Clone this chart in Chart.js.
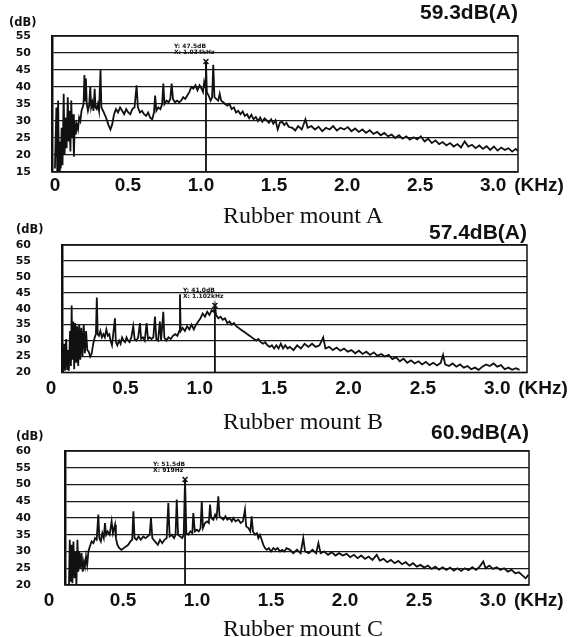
<!DOCTYPE html>
<html>
<head>
<meta charset="utf-8">
<script src="https://cdn.jsdelivr.net/npm/chart.js@4.4.1/dist/chart.umd.min.js"></script>
<style>
  body { margin: 0; background: #fff; width: 579px; height: 637px; position: relative; overflow: hidden; }
  canvas { position: absolute; left: 0; }
  .cap { position: absolute; left: 0; width: 606px; text-align: center; color: #111;
         font: 24px/24px "Liberation Serif", "Times New Roman", serif; }
</style>
</head>
<body>
<canvas id="chartA" width="579" height="200" style="top:0px"></canvas>
<canvas id="chartB" width="579" height="210" style="top:200px"></canvas>
<canvas id="chartC" width="579" height="227" style="top:410px"></canvas>
<div class="cap" style="top:203px">Rubber mount A</div>
<div class="cap" style="top:409px">Rubber mount B</div>
<div class="cap" style="top:616px">Rubber mount C</div>
<script>
// tick labels
const xTicks = [0, 0.5, 1.0, 1.5, 2.0, 2.5, 3.0];
const titles = ["59.3dB(A)", "57.4dB(A)", "60.9dB(A)"];

// Rubber mount A spectrum (kHz, dB)
const freqA = [0.000,0.010,0.016,0.022,0.028,0.034,0.040,0.046,0.052,0.060,0.066,0.074,0.080,0.088,0.094,0.100,0.106,0.112,0.118,0.124,
  0.130,0.136,0.142,0.150,0.158,0.166,0.174,0.182,0.190,0.196,0.202,0.206,0.212,0.218,0.226,0.234,0.242,0.248,0.256,0.264,
  0.272,0.278,0.286,0.294,0.302,0.312,0.318,0.330,0.350,0.365,0.380,0.392,0.405,0.418,0.432,0.446,0.460,0.474,0.488,0.502,
  0.516,0.530,0.545,0.559,0.568,0.582,0.596,0.610,0.624,0.638,0.652,0.666,0.678,0.686,0.694,0.708,0.722,0.734,0.742,0.750,
  0.764,0.778,0.790,0.799,0.808,0.822,0.836,0.850,0.864,0.878,0.892,0.906,0.920,0.934,0.948,0.962,0.976,0.990,1.004,1.014,
  1.022,1.030,1.034,1.040,1.052,1.066,1.076,1.084,1.092,1.104,1.118,1.128,1.138,1.152,1.165,1.180,1.195,1.210,1.225,1.240,
  1.255,1.270,1.285,1.300,1.315,1.330,1.345,1.360,1.375,1.390,1.405,1.420,1.435,1.450,1.465,1.480,1.495,1.510,1.525,1.540,
  1.555,1.570,1.585,1.600,1.625,1.645,1.665,1.690,1.715,1.730,1.755,1.780,1.805,1.830,1.855,1.880,1.905,1.930,1.955,1.980,
  2.005,2.030,2.055,2.080,2.105,2.130,2.155,2.180,2.205,2.230,2.255,2.280,2.305,2.330,2.355,2.380,2.405,2.430,2.455,2.480,
  2.505,2.530,2.555,2.580,2.605,2.630,2.655,2.680,2.705,2.730,2.755,2.780,2.805,2.830,2.855,2.880,2.905,2.930,2.955,2.980,
  3.005,3.030,3.055,3.080,3.105,3.130,3.155,3.168];
const dbA = [16,34,15,36,15,24,16,28,17,38,20,31,22,37,24,33,21,36,25,32,
  19.5,30,26,29,27.5,31,30,33,34,35,43.5,36,42.5,35,33,34.5,40,34,35.5,33,
  39.5,34,33.5,35,33,45,34,33,31,29,27.5,29,32,33.5,32.5,34,33,32,33.5,32.5,
  32,33.5,34,40.5,34,32.5,33,32,31.5,32.5,31,30.5,32.5,37.5,33,34,33.5,35,41,35,
  36,35.5,36.5,41,36.5,35.5,36,35.5,36,37,36.5,37.5,38.5,40,39.5,40.5,39,40.5,39.5,38.5,
  41.5,40,47.5,38.5,37.5,36,37,46.5,37,36.5,36,38,36,35.5,35,34.5,35,33.5,34,32.5,
  33,32,32.8,31.5,32,30.8,31.8,30.5,31.2,30,31,29.8,30.8,30.2,29.5,30.5,29.2,30.2,27.5,29.5,
  29.8,28.8,29.5,28.3,28,27.2,28.5,27.5,30.5,28,28.5,27.5,28.3,27,28,27.5,28.5,27.2,28,27.5,
  28.2,27,27.8,26.8,27.5,26.5,27.3,26.2,26.8,25.8,26.5,25.5,26,25,25.8,24.8,25.5,24.5,25.2,24.6,
  25.5,24,24.8,23.5,24.3,23.2,23.8,22.8,23.5,22.5,23.2,22.2,24,22.5,23,22,22.8,21.8,22.6,21.5,
  22.5,21.3,22.2,21.5,22,21,21.8,21.2];
const cursorA = [1.034, 47.5];

// Rubber mount B spectrum (kHz, dB)
const freqB = [0.080,0.088,0.094,0.102,0.108,0.114,0.120,0.128,0.134,0.139,0.144,0.150,0.156,0.163,0.170,0.176,0.183,0.190,0.197,0.204,
  0.212,0.220,0.228,0.236,0.244,0.254,0.264,0.274,0.284,0.294,0.302,0.308,0.314,0.322,0.332,0.342,0.352,0.362,0.372,0.382,
  0.392,0.400,0.410,0.430,0.436,0.446,0.458,0.468,0.478,0.488,0.498,0.508,0.518,0.528,0.540,0.553,0.562,0.574,0.586,0.598,
  0.606,0.618,0.630,0.643,0.652,0.664,0.676,0.688,0.699,0.708,0.720,0.732,0.740,0.755,0.762,0.775,0.790,0.805,0.820,0.835,
  0.850,0.862,0.867,0.872,0.885,0.900,0.915,0.930,0.945,0.960,0.975,0.990,1.005,1.020,1.035,1.050,1.065,1.080,1.095,1.102,
  1.110,1.125,1.140,1.155,1.170,1.185,1.200,1.215,1.230,1.245,1.260,1.275,1.290,1.305,1.320,1.335,1.350,1.365,1.380,1.395,
  1.410,1.425,1.440,1.455,1.470,1.485,1.500,1.515,1.530,1.545,1.560,1.575,1.590,1.606,1.630,1.655,1.680,1.705,1.730,1.755,
  1.780,1.805,1.830,1.845,1.870,1.895,1.920,1.945,1.970,1.995,2.020,2.045,2.070,2.095,2.120,2.145,2.170,2.195,2.220,2.245,
  2.270,2.295,2.320,2.345,2.370,2.395,2.420,2.445,2.470,2.495,2.520,2.545,2.570,2.595,2.620,2.636,2.650,2.675,2.700,2.725,
  2.750,2.775,2.800,2.825,2.850,2.875,2.900,2.925,2.950,2.975,3.000,3.025,3.050,3.075,3.100,3.125,3.150];
const dbB = [20,29,20.5,30.5,21,27,20.5,33,22,41,24,36,21,35.5,23,34.5,22,35,24,34,
  25,35,26,33,27,26.5,25,26,29,31,32,43.5,32,31.5,33,31,32,31,33.5,31.5,
  32,30,28.5,37,29.5,28.5,30,29,31,30,29.5,31,30,29.5,31,34.5,30.5,30,31,35.5,
  30.5,31,30,35.5,30.5,31,30.5,31,37.5,30.5,30,36,30,39,31,30,31,30.5,31.5,32,
  31.5,33,44.5,33,34,33,34.5,33.5,35,33.5,35,36,37,38.5,37.5,39,38,39.5,39,41,
  38,37,37.5,36.5,37,35.5,36,35,35.5,34.5,34,33.5,33,32.5,32,31.5,31,30.5,30,30.5,
  29.5,29,29.5,28.5,28,28.5,27.5,28.5,27.5,29,27.5,28.5,27.5,28,27,28.5,27.5,29,28,29,
  28,28.5,31,27.5,28,27,27.8,26.8,27.5,26.5,27,26,26.8,25.8,26.5,25.5,26.3,25.2,25.8,25,
  25.5,24.2,24.8,23.5,24.3,23,23.8,22.8,23.5,22.5,23.3,22.3,23,22.2,23,25.5,22.5,22,22.8,21.8,
  22.5,21.5,22,21,21.5,20.8,21.8,22.5,22,22.8,21.8,22.3,21,21.5,20.8,21.3,20.8];
const cursorB = [1.102, 41];

// Rubber mount C spectrum (kHz, dB)
const freqC = [0.135,0.140,0.146,0.152,0.158,0.165,0.172,0.178,0.185,0.192,0.198,0.205,0.212,0.220,0.228,0.236,0.243,0.250,0.258,0.266,
  0.276,0.288,0.300,0.311,0.322,0.333,0.340,0.350,0.360,0.370,0.378,0.386,0.396,0.410,0.423,0.432,0.446,0.452,0.462,0.475,
  0.490,0.505,0.520,0.535,0.550,0.562,0.570,0.578,0.592,0.605,0.620,0.637,0.652,0.680,0.689,0.698,0.716,0.735,0.750,0.765,
  0.780,0.795,0.806,0.815,0.829,0.845,0.855,0.863,0.872,0.885,0.900,0.910,0.919,0.928,0.941,0.955,0.968,0.975,0.985,0.998,
  1.012,1.024,1.032,1.040,1.054,1.068,1.080,1.088,1.096,1.110,1.122,1.132,1.144,1.152,1.165,1.178,1.192,1.205,1.220,1.235,
  1.245,1.260,1.279,1.295,1.310,1.324,1.332,1.347,1.360,1.369,1.378,1.392,1.405,1.414,1.425,1.437,1.448,1.460,1.471,1.485,
  1.500,1.516,1.530,1.545,1.561,1.575,1.590,1.605,1.628,1.650,1.675,1.700,1.718,1.730,1.755,1.780,1.805,1.820,1.835,1.860,
  1.885,1.910,1.935,1.960,1.985,2.010,2.035,2.060,2.085,2.110,2.135,2.160,2.185,2.214,2.235,2.260,2.285,2.310,2.335,2.360,
  2.385,2.410,2.435,2.460,2.485,2.510,2.535,2.560,2.585,2.610,2.635,2.660,2.685,2.710,2.735,2.760,2.785,2.810,2.835,2.860,
  2.885,2.910,2.934,2.950,2.975,3.000,3.025,3.050,3.075,3.100,3.125,3.150,3.175,3.200,3.220,3.239];
const dbC = [20,33.5,21,32,20.5,33,22,30,20,33.5,24,30,25,29.5,24,27,25.5,28.5,26,30,
  31.5,33,32.5,34,33.5,41,34,33,35.5,34,38.5,35,36,35,39,35.5,38,34,32,31,
  30.5,31,31.5,32,33,33.5,42,34,33.5,34.5,33.5,34.5,34,35,40,34,33,32,33.5,32.5,
  33.5,34,44.5,34.5,35,34,35,45.5,35,34.5,34,35,51.5,35.5,35,36,35.5,41.5,36,36.5,
  36,37,45,37,38.5,39,38.5,44,40,39.5,41,40,46.5,40.5,40,39.5,40.5,39.5,40,39,
  40,39,39.5,38.5,39,42.5,37.5,37,36,40.5,36,35,35.5,34,35,33.5,32,31,30.5,31,
  30,31,30.5,31,30,30.5,30,31,30.5,29.5,30.5,29.5,34,30,29.5,30.5,29.5,32.5,29.5,30,
  29,29.8,28.8,29.5,28.8,29.3,28.3,29,28,28.8,27.8,28.5,27.5,29,27.3,27.8,26.8,27.5,26.5,27.2,
  26.2,26.8,25.8,26.5,25.5,26,25.2,25.8,24.8,25.5,24.6,25.3,24.5,25.2,24.3,25,24.2,25,24.4,25.3,
  24.5,25.5,27,25,25.8,24.8,25.3,24.5,25,24,24.5,23.5,23.8,22.8,22,23];
const cursorC = [0.919, 51.5];

const fontSans = "'Liberation Sans', Arial, sans-serif";
const fontWide = "'DejaVu Sans', sans-serif";

// box round the plot area
const frame = {
  id: 'frame',
  afterDatasetsDraw(chart) {
    const a = chart.chartArea, ctx = chart.ctx;
    ctx.save();
    ctx.strokeStyle = '#111';
    ctx.lineWidth = 1.5;
    ctx.strokeRect(a.left, a.top, a.right - a.left, a.bottom - a.top);
    ctx.restore();
  }
};

// unit labels and cursor readout
function extras(cfg) {
  return {
    id: 'extras',
    afterDraw(chart) {
      const ctx = chart.ctx, x = chart.scales.x, y = chart.scales.y;
      ctx.save();
      ctx.fillStyle = '#111';
      ctx.font = "bold 11.5px " + fontWide;
      ctx.textAlign = 'left';
      ctx.textBaseline = 'middle';
      ctx.fillText('(dB)', cfg.unitPos[0], cfg.unitPos[1]);

      ctx.font = "bold 19px " + fontSans;
      ctx.fillText('(KHz)', x.getPixelForValue(3.0) + 21, x.top + cfg.tickPad + 11.4);

      const cx = x.getPixelForValue(cfg.cursor[0]), cy = y.getPixelForValue(cfg.cursor[1]);
      const f = cfg.cursor[0];
      ctx.font = "bold 6px " + fontWide;
      ctx.fillText('Y: ' + cfg.cursor[1].toFixed(1) + 'dB', cx - 32, cy - 15);
      ctx.fillText('X: ' + (f < 1 ? Math.round(f * 1000) + 'Hz' : f.toFixed(3) + 'kHz'), cx - 32, cy - 9);
      ctx.restore();
    }
  };
}

function makeChart(id, cfg) {
  return new Chart(document.getElementById(id), {
    type: 'line',
    data: {
      datasets: [
        {
          data: cfg.freq.map((f, i) => ({ x: f, y: cfg.db[i] })),
          borderColor: '#111', borderWidth: 1.8, pointRadius: 0, tension: 0
        },
        {
          // cursor line
          data: [{ x: cfg.cursor[0], y: cfg.cursor[1] }, { x: cfg.cursor[0], y: cfg.yMin }],
          borderColor: '#111', borderWidth: 1.8,
          pointRadius: [3.5, 0], pointStyle: 'crossRot', pointBorderColor: '#111', pointBorderWidth: 1.5
        }
      ]
    },
    options: {
      responsive: false,
      animation: false,
      layout: { padding: { top: cfg.padTop, right: cfg.padRight, bottom: cfg.padBottom, left: 0 } },
      plugins: {
        legend: { display: false },
        tooltip: { enabled: false },
        title: {
          display: true, text: cfg.title, align: 'end', color: '#111',
          font: { family: fontSans, size: 21, weight: 'bold', lineHeight: 1 },
          padding: { top: 0, bottom: cfg.titleGap }
        }
      },
      scales: {
        x: {
          type: 'linear', min: cfg.xMin, max: cfg.xMax,
          grid: { display: false, drawTicks: false },
          border: { display: false },
          ticks: {
            color: '#111', padding: cfg.tickPad, autoSkip: false, maxRotation: 0,
            font: { family: fontSans, size: 19, weight: 'bold' },
            callback: v => v === 0 ? '0' : v.toFixed(1)
          },
          afterBuildTicks: s => { s.ticks = xTicks.map(v => ({ value: v })); },
          afterFit: s => { s.height = 28; }
        },
        y: {
          min: cfg.yMin, max: cfg.yMax,
          grid: { color: '#1a1a1a', lineWidth: 1.2, drawTicks: false },
          border: { color: '#111', width: 2.5 },
          ticks: {
            stepSize: 5, color: '#111', padding: cfg.axisW - 31,
            font: { family: fontWide, size: 11, weight: 'bold' }
          },
          afterFit: s => { s.width = cfg.axisW; }
        }
      }
    },
    plugins: [frame, extras(cfg)]
  });
}

makeChart('chartA', { freq: freqA, db: dbA, cursor: cursorA, title: titles[0], yMin: 15, yMax: 55,
  xMin: -0.02, xMax: 3.17, axisW: 52, padTop: 3, titleGap: 12, padRight: 61, padBottom: 0, tickPad: 2, unitPos: [9, 23] });
makeChart('chartB', { freq: freqB, db: dbB, cursor: cursorB, title: titles[1], yMin: 20, yMax: 60,
  xMin: 0.074, xMax: 3.2, axisW: 62, padTop: 22.5, titleGap: 1.5, padRight: 52, padBottom: 5, tickPad: 5, unitPos: [16, 30] });
makeChart('chartC', { freq: freqC, db: dbC, cursor: cursorC, title: titles[2], yMin: 20, yMax: 60,
  xMin: 0.108, xMax: 3.243, axisW: 65, padTop: 12.5, titleGap: 7.5, padRight: 50, padBottom: 24, tickPad: 4, unitPos: [16, 27] });
</script>
</body>
</html>
